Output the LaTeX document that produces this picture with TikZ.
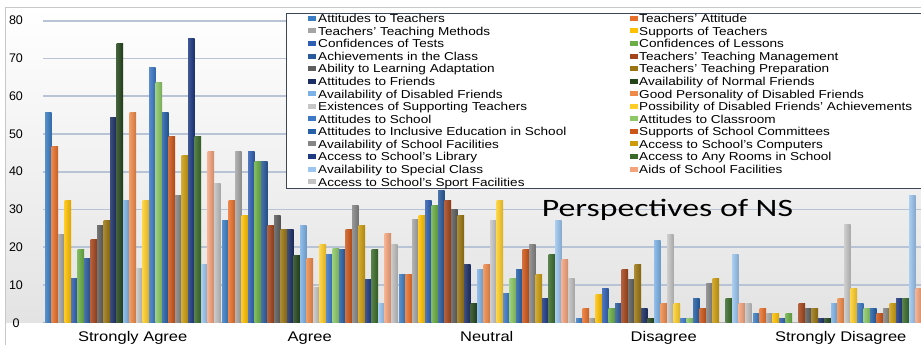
\documentclass[tikz,border=0pt]{standalone}
\usepackage{fontspec}
\setmainfont{Liberation Sans}[FakeStretch=1.18]
\newfontfamily\numfont{Liberation Sans}
\newfontfamily\titlefont{Carlito}[FakeStretch=1.35]

\definecolor{s1}{HTML}{3B7DC4}
\definecolor{s2}{HTML}{E8702A}
\definecolor{s3}{HTML}{A5A5A5}
\definecolor{s4}{HTML}{FFC000}
\definecolor{s5}{HTML}{2F5FB3}
\definecolor{s6}{HTML}{6AAE45}
\definecolor{s7}{HTML}{2A5A9C}
\definecolor{s8}{HTML}{A4441A}
\definecolor{s9}{HTML}{5E5E5E}
\definecolor{s10}{HTML}{9A7410}
\definecolor{s11}{HTML}{1C2F66}
\definecolor{s12}{HTML}{24451A}
\definecolor{s13}{HTML}{7DB2E6}
\definecolor{s14}{HTML}{F08A4A}
\definecolor{s15}{HTML}{C6C6C6}
\definecolor{s16}{HTML}{FFCD28}
\definecolor{s17}{HTML}{3D78C8}
\definecolor{s18}{HTML}{8CC865}
\definecolor{s19}{HTML}{2560A8}
\definecolor{s20}{HTML}{CC5518}
\definecolor{s21}{HTML}{858585}
\definecolor{s22}{HTML}{CC9C0E}
\definecolor{s23}{HTML}{1D3A82}
\definecolor{s24}{HTML}{3A6A2A}
\definecolor{s25}{HTML}{9CC6F0}
\definecolor{s26}{HTML}{F4A37C}
\definecolor{s27}{HTML}{C2C2C2}
\definecolor{gridblue}{HTML}{B8C3D6}
\definecolor{legendframe}{HTML}{3C4656}
\definecolor{framegray}{HTML}{C8C8C8}

\begin{document}
\begin{tikzpicture}[x=1pt,y=1pt,
    gridline/.style={gridblue, line width=1.8pt},
    legendbox/.style={draw=legendframe, fill=white, line width=0.8pt},
    legendkey/.style={fill=#1, minimum width=8pt, minimum height=5pt, inner sep=0pt},
    legendtext/.style={anchor=base west, inner sep=0pt, font=\fontsize{11.5}{12}\selectfont},
    axislabel/.style={inner sep=0pt, font=\numfont\fontsize{12.5}{13}\selectfont},
    grouplabel/.style={anchor=base, inner sep=0pt, font=\fontsize{14}{15}\selectfont}]
    \useasboundingbox (0,0) rectangle (921,345);
    \clip (0,0) rectangle (921,345);
    \fill[white] (0,0) rectangle (921,345);
    \shade[top color=white, bottom color=gray!22] (5.5,22.3) rectangle (921,337.5);
    \draw[framegray] (5.5,-1) -- (5.5,337.5) -- (925,337.5);

    % grid and y axis
    \foreach \v in {10,20,...,80}
        \draw[gridline] (43,{22.3+3.775*\v}) -- (921,{22.3+3.775*\v});
    \draw[gray!60] (43,22.3) -- (921,22.3);
    \foreach \v in {0,10,...,80}
        \node[axislabel] (tick\v) at (16,{22.3+3.775*\v}) {\v};

    % bars, one list per answer
    \foreach \vals [count=\g from 0] in {
        {55.6,46.6,23.4,32.3,11.7,19.5,16.9,22.1,25.8,27.2,54.4,74.0,32.3,55.6,14.3,32.3,67.5,63.6,55.6,49.3,33.8,44.2,75.2,49.3,15.5,45.4,36.9},
        {27.2,32.3,45.3,28.5,45.3,42.6,42.6,25.7,28.5,24.6,24.6,17.9,25.7,16.9,9.3,20.8,18.1,19.7,19.5,24.8,31.0,25.7,11.5,19.5,5.1,23.5,20.8},
        {12.9,12.9,27.4,28.5,32.3,31.0,35.0,32.3,29.9,28.5,15.5,5.1,14.2,15.5,27.2,32.5,7.8,11.6,14.2,19.5,20.8,12.9,6.5,18.1,27.2,16.7,11.6},
        {1.2,3.8,1.2,7.6,9.1,3.8,5.1,14.1,11.5,15.5,3.8,1.2,21.9,5.1,23.4,5.1,1.2,1.2,6.5,3.8,10.4,11.6,0,6.5,18.1,5.1,5.1},
        {2.5,3.8,2.5,2.5,1.2,2.5,0,5.0,3.8,3.8,1.2,1.2,5.0,6.5,25.9,9.1,5.0,3.8,3.8,2.5,3.8,5.0,6.5,6.5,33.6,9.1,25.6}} {
        \foreach \v [count=\s] in \vals {
            \ifdim \v pt>0pt
                \shade[left color=s\s!85!white, right color=s\s!85!black]
                    ({45+177*\g+6.5*(\s-1)},22.3) rectangle ++(6.5,{3.775*\v});
            \fi
        }
    }
    \foreach \name [count=\g from 0] in {Strongly Agree,Agree,Neutral,Disagree,Strongly Disagree}
        \node[grouplabel] (group\g) at ({132.75+177*\g},3.3) {\name};

    % legend
    \draw[legendbox] (286.5,331.7) rectangle (930,156.5);
    \foreach \txt [count=\s from 0] in {Attitudes to Teachers,Teachers' Attitude,
        Teachers' Teaching Methods,Supports of Teachers,
        Confidences of Tests,Confidences of Lessons,
        Achievements in the Class,Teachers' Teaching Management,
        Ability to Learning Adaptation,Teachers' Teaching Preparation,
        Attitudes to Friends,Availability of Normal Friends,
        Availability of Disabled Friends,Good Personality of Disabled Friends,
        Existences of Supporting Teachers,Possibility of Disabled Friends' Achievements,
        Attitudes to School,Attitudes to Classroom,
        Attitudes to Inclusive Education in School,Supports of School Committees,
        Availability of School Facilities,Access to School's Computers,
        Access to School's Library,Access to Any Rooms in School,
        Availability to Special Class,Aids of School Facilities,
        Access to School's Sport Facilities} {
        \pgfmathtruncatemacro\row{\s/2}
        \pgfmathtruncatemacro\col{mod(\s,2)}
        \pgfmathtruncatemacro\k{\s+1}
        \node[legendkey=s\k] (key\k) at ({312.2+321.8*\col},{326.7-12.57*\row}) {};
        \node[legendtext] (entry\k) at ({318+321*\col},{322.3-12.57*\row}) {\txt};
    }

    \node[anchor=base west, inner sep=0pt, font=\titlefont\fontsize{25}{26}\selectfont]
        (title) at (541.7,128.3) {Perspectives of NS};
\end{tikzpicture}
\end{document}
